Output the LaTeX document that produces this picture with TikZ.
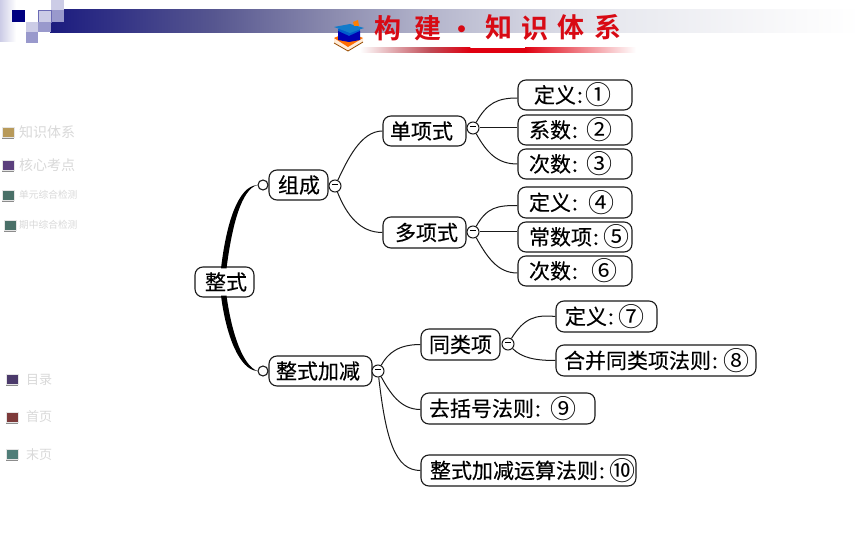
\documentclass[tikz,border=0pt]{standalone}
\usepackage{fontspec}
\setmainfont{Noto Sans CJK SC}
\newfontfamily\cjk[FakeBold=0.25]{Noto Sans CJK SC}
\newfontfamily\cjkplain{Noto Sans CJK SC}
\newfontfamily\cjkb{Noto Sans CJK SC Bold}
\usetikzlibrary{calc}
\definecolor{ink}{HTML}{1A1A1A}
\definecolor{navy}{HTML}{000080}
\definecolor{lav}{HTML}{CCCCE6}
\definecolor{midlav}{HTML}{9999CC}
\definecolor{titlered}{HTML}{D80A14}
\definecolor{gA}{HTML}{1B1B7F}
\definecolor{gB}{HTML}{575790}
\definecolor{gC}{HTML}{8A8AAE}
\definecolor{gD}{HTML}{B4B5CC}
\definecolor{gE}{HTML}{CFD0DE}
\definecolor{gF}{HTML}{E8E9EF}
\definecolor{gG}{HTML}{FAFAFB}
\definecolor{uA}{HTML}{C04A55}
\definecolor{uB}{HTML}{E00010}
\tikzset{
  boxstyle/.style={draw=ink,line width=1.1pt,rounded corners=8pt,fill=white,inner sep=0pt,text=black,font=\cjk\fontsize{21}{21}\selectfont},
  link/.style={draw=ink,line width=1pt},
  minusdot/.style={circle,draw=ink,line width=1pt,fill=white,minimum size=12pt,inner sep=0pt},
  opendot/.style={circle,draw=ink,line width=1.1pt,fill=white,minimum size=10pt,inner sep=0pt},
  trunk/.style={fill=black,draw=none},
  menutext/.style={text=black!15,anchor=west,inner sep=0pt,font=\cjkplain\fontsize{#1}{#1}\selectfont},
  titlechar/.style={text=titlered,font=\cjkb\fontsize{27}{27}\selectfont,inner sep=0pt},
  menuicon/.style={draw=black!10,line width=.8pt,fill=#1},
  bar/.style={fill=black!45},
}
% name, x0, y0, x1, y1, text left, text
\newcommand{\bx}[7]{%
  \pgfmathsetmacro{\bw}{#4-#2}\pgfmathsetmacro{\bh}{#5-#3}%
  \pgfmathsetmacro{\bo}{#6-#2}\pgfmathsetmacro{\bcx}{(#2+#4)/2}\pgfmathsetmacro{\bcy}{(#3+#5)/2}%
  \node[boxstyle,minimum width=\bw pt,minimum height=\bh pt] (#1) at (\bcx,\bcy) {\makebox[\bw pt][l]{\hspace*{\bo pt}#7}};%
}
\newcommand{\mk}{\rule[2pt]{6.5pt}{1pt}}
\newcommand{\cl}[1]{\kern1pt:\kern#1pt}
\newcommand{\cd}[1]{\raisebox{-2pt}{\cjkplain\fontsize{26}{26}\selectfont #1}}
\newcommand{\icon}[3]{%
  \fill[bar] (#1,#2+10) rectangle (#1+12,#2+12);
  \fill[menuicon=#3] (#1,#2) rectangle (#1+12,#2+10);
}
\definecolor{iA}{HTML}{B89A5A}
\definecolor{iB}{HTML}{5B3F7D}
\definecolor{iC}{HTML}{4A7068}
\definecolor{iD}{HTML}{4B3A6B}
\definecolor{iE}{HTML}{7D3A3A}
\definecolor{iF}{HTML}{4F7D78}
\begin{document}
\begin{tikzpicture}[x=1pt,y=-1pt]
\useasboundingbox (0,0) rectangle (860,537);
\fill[white] (0,0) rectangle (860,537);
% banner
\shade[left color=lav,right color=white] (0,0) rectangle (16,42);
\shade[left color=gA,right color=gB] (50,10) rectangle (215.4,33);
\shade[left color=gB,right color=gC] (215,10) rectangle (330.4,33);
\shade[left color=gC,right color=gD] (330,10) rectangle (430.4,33);
\shade[left color=gD,right color=gE] (430,10) rectangle (520.4,33);
\shade[left color=gE,right color=gF] (520,10) rectangle (620.4,33);
\shade[left color=gF,right color=gG] (620,10) rectangle (800.4,33);
\shade[left color=gG,right color=white] (800,10) rectangle (860,33);
% corner squares
\fill[white] (25,0) rectangle (52,22);
\fill[navy] (12,10) rectangle (25,22);
\fill[lav] (51,0) rectangle (64,10);
\fill[midlav] (51,10) rectangle (64,22);
\fill[lav,draw=midlav!70!navy,line width=.8pt] (38.5,10.5) rectangle (51,22);
\fill[lav] (26,22) rectangle (38,32);
\fill[midlav] (38,22) rectangle (51,32);
\fill[midlav] (26,32) rectangle (38,43);
% title underline
\shade[left color=white,right color=uA] (360,48) rectangle (430.4,53);
\shade[left color=uA,right color=uB] (430,48) rectangle (470.4,53);
\fill[uB] (470,48) rectangle (525.4,53);
\shade[left color=uB,right color=white] (525,48) rectangle (636,53);
% book and cap icon
\fill[white!85!orange] (334,38) -- (348,45) -- (363,38) -- (363,42) -- (348,51) -- (334,43) -- cycle;
\fill[orange!85!red] (334,38) -- (348,32) -- (363,38) -- (348,47) -- cycle;
\draw[orange!60!black,line width=.8pt] (334,43) -- (348,51) -- (363,42);
\fill[blue!55!cyan!80!black] (338,29) rectangle (360,40);
\fill[blue!70!black] (338,31) -- (349,36) -- (360,31) -- (360,40) -- (349,42) -- (338,40) -- cycle;
\fill[cyan!60!blue] (334,27) -- (350,24) -- (364,28) -- (350,33) -- cycle;
\fill[orange] (353,22) -- (358,20) -- (359,26) -- (354,26) -- cycle;
% title
\node[titlechar] (t1) at (388,28) {构};
\node[titlechar] (t2) at (428,28) {建};
\node[titlechar] (t3) at (462,33) {·};
\node[titlechar] (t4) at (499,27) {知};
\node[titlechar] (t5) at (535,28) {识};
\node[titlechar] (t6) at (571,27) {体};
\node[titlechar] (t7) at (608,27) {系};
% side menu
\icon{2}{127}{iA}
\icon{2}{160}{iB}
\icon{2}{190}{iC}
\icon{4}{220}{iC}
\icon{6}{374}{iD}
\icon{6}{412}{iE}
\icon{6}{449}{iF}
\node[menutext=14] (m1) at (19,132) {知识体系};
\node[menutext=14] (m2) at (19,165) {核心考点};
\node[menutext=9.7] (m3) at (19,195) {单元综合检测};
\node[menutext=9.7] (m4) at (19,225) {期中综合检测};
\node[menutext=13] (m5) at (26,380) {目录};
\node[menutext=13] (m6) at (26,417) {首页};
\node[menutext=13] (m7) at (26,455) {末页};
% boxes
\bx{root}{195}{267}{254}{297}{205}{整式}
\bx{zc}{269}{170}{328}{200}{278}{组成}
\bx{dan}{383}{116}{466}{146}{390}{单项式}
\bx{duo}{383}{217}{466}{248}{395}{多项式}
\bx{a1}{518}{80}{632}{110}{534}{定义\cl{3}\cd{①}}
\bx{a2}{518}{115}{632}{145}{529}{系数\cl{9}\cd{②}}
\bx{a3}{518}{149}{632}{179}{529}{次数\cl{9}\cd{③}}
\bx{a4}{518}{187}{632}{218}{529}{定义\cl{11}\cd{④}}
\bx{a5}{518}{222}{632}{252}{529}{常数项\cl{5}\cd{⑤}}
\bx{a6}{518}{256}{632}{286}{529}{次数\cl{14}\cd{⑥}}
\bx{js}{269}{356}{372}{386}{276}{整式加减}
\bx{tl}{421}{329}{500}{360}{429}{同类项}
\bx{qk}{421}{393}{595}{424}{429}{去括号法则\cl{10}\cd{⑨}}
\bx{ys}{421}{455}{636}{486}{430}{整式加减运算法则\cl{5}\cd{⑩}}
\bx{b1}{556}{301}{657}{332}{565}{定义\cl{5}\cd{⑦}}
\bx{b2}{556}{345}{756}{376}{564}{合并同类项法则\cl{6}\cd{⑧}}
% toggles
\node[opendot] (o1) at (263,185) {};
\node[opendot] (o2) at (263,371) {};
\node[minusdot] (c1) at (335,186) {\mk};
\node[minusdot] (c2) at (473,128) {\mk};
\node[minusdot] (c3) at (473,232) {\mk};
\node[minusdot] (c4) at (378,371) {\mk};
\node[minusdot] (c5) at (508,344) {\mk};
% connectors
\draw[link] (c1) .. controls +(12,-25) and +(-22,0) .. (dan.west);
\draw[link] (c1) .. controls +(12,30) and +(-22,0) .. (duo.west);
\draw[link] (c2) .. controls +(14,-25) and +(-20,0) .. ([yshift=-3pt]a1.west);
\draw[link] (c2) -- (c2 -| a2.west);
\draw[link] (c2) .. controls +(14,25) and +(-20,0) .. (a3.west);
\draw[link] (c3) .. controls +(14,-25) and +(-20,0) .. ([yshift=-3pt]a4.west);
\draw[link] (c3) -- (c3 -| a5.west);
\draw[link] (c3) .. controls +(14,25) and +(-20,0) .. ([yshift=-2pt]a6.west);
\draw[link] (c4) .. controls +(10,-18) and +(-22,0) .. (tl.west);
\draw[link] (c4) .. controls +(12,22) and +(-20,0) .. ([yshift=-1pt]qk.west);
\draw[link] (c4) .. controls +(8,70) and +(-25,0) .. (ys.west);
\draw[link] (c5) .. controls +(16,-26) and +(-20,-2) .. (b1.west);
\draw[link] (c5) .. controls +(14,14) and +(-20,0) .. (b2.west);
% trunks
\coordinate (r1) at ($(root.north)+(-3.5,2)$);
\coordinate (r2) at ($(root.north)+(2,2)$);
\coordinate (r3) at ($(root.south)+(-3.5,-2)$);
\coordinate (r4) at ($(root.south)+(2,-2)$);
\fill[trunk] (r1) .. controls +(5,-43) and +(-20,1) .. (o1.west) .. controls +(-16,4) and +(5.5,-43) .. (r2) -- cycle;
\fill[trunk] (r3) .. controls +(5,40) and +(-18,-1) .. (o2.west) .. controls +(-14,-5) and +(5.5,40) .. (r4) -- cycle;
\end{tikzpicture}
\end{document}
